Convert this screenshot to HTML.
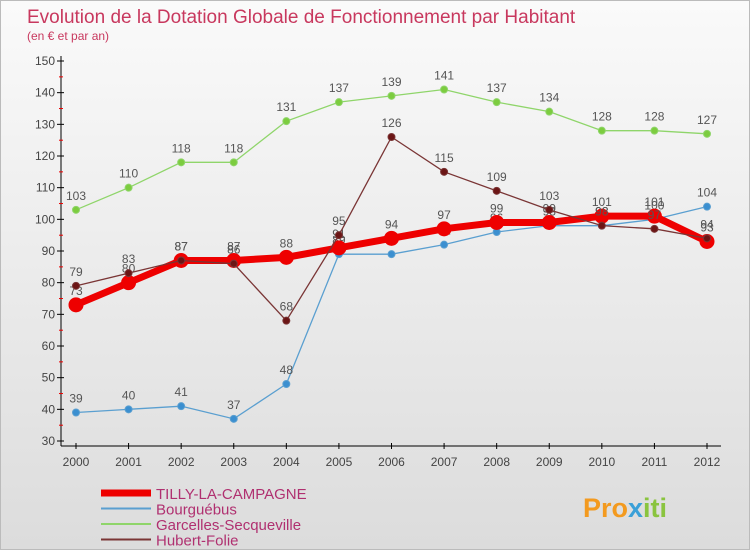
<!DOCTYPE html>
<html><head><meta charset="utf-8"><style>
body{margin:0;width:750px;height:550px;overflow:hidden;font-family:"Liberation Sans",sans-serif;}
#c{position:absolute;left:0;top:0;width:748px;height:548px;border:1px solid #bbb;background:linear-gradient(#fafafa,#dcdcdc);}
</style></head><body>
<div id="c">
<svg id="s" width="750" height="550">
<text x="26" y="22" font-size="19" fill="#c8385e">Evolution de la Dotation Globale de Fonctionnement par Habitant</text>
<text x="26" y="39" font-size="12" fill="#c8385e">(en € et par an)</text>
<g id="axes"></g><g id="series"></g><g id="legend"></g>
<text x="582" y="516" font-size="27" font-weight="bold" fill="#f39a1f">Pro<tspan fill="#3aa0d8">x</tspan><tspan fill="#8ac43f">iti</tspan></text>
</svg></div>
<script>
const years=[2000,2001,2002,2003,2004,2005,2006,2007,2008,2009,2010,2011,2012];
const yTicks=[30,40,50,60,70,80,90,100,110,120,130,140,150];
const tilly=[73,80,87,87,88,91,94,97,99,99,101,101,93];
const bourg=[39,40,41,37,48,89,89,92,96,98,98,100,104];
const garc=[103,110,118,118,131,137,139,141,137,134,128,128,127];
const hub=[79,83,87,86,68,95,126,115,109,103,98,97,94];
const NS='http://www.w3.org/2000/svg';
const X=i=>75+i*(706-75)/12;
const Y=v=>440-(v-30)*(380/120);
function mk(t,a,p){const e=document.createElementNS(NS,t);for(const k in a)e.setAttribute(k,a[k]);p.appendChild(e);return e;}
const ax=document.getElementById('axes');
let l=mk('line',{x1:60,y1:55,x2:60,y2:445,stroke:'#000'},ax);

l=mk('line',{x1:60,y1:445,x2:720,y2:445,stroke:'#000'},ax);

yTicks.forEach(v=>{const y=Y(v);
 mk('line',{x1:56,y1:y,x2:63,y2:y,stroke:'#000'},ax);
 if(v<150)mk('line',{x1:58,y1:y-15.8,x2:62,y2:y-15.8,stroke:'#e00'},ax);
 const t=mk('text',{x:54,y:y+4,'font-size':12,'text-anchor':'end',fill:'#444'},ax);t.textContent=v;
 });
years.forEach((yr,i)=>{const x=X(i);
 mk('line',{x1:x,y1:442,x2:x,y2:448,stroke:'#000'},ax);
 const t=mk('text',{x:x,y:465,'font-size':12,'text-anchor':'middle',fill:'#444'},ax);t.textContent=yr;
 });
const sg=document.getElementById('series');
function series(d,col,w,r,fill,name){
 const g=mk('g',{},sg);
 mk('polyline',{points:d.map((v,i)=>X(i)+','+Y(v)).join(' '),fill:'none',stroke:col,'stroke-width':w},g);
 d.forEach((v,i)=>{const c=mk('circle',{cx:X(i),cy:Y(v),r:r,fill:fill,stroke:col,'stroke-width':1},g);
  
  const t=mk('text',{x:X(i),y:Y(v)-10,'font-size':12,'text-anchor':'middle',fill:'#555'},g);t.textContent=v;
  });
}
series(garc,'#8fd56a',1.3,3.5,'#7ccc3f','garcelles-series');
series(bourg,'#5a9fd0',1.3,3.5,'#3b8fd0','bourguebus-series');
series(tilly,'#ee0000',7,7,'#ee0000','tilly-series');
series(hub,'#7a3535',1.3,3.5,'#6b1515','hubert-series');
const lg=document.getElementById('legend');
const items=[['TILLY-LA-CAMPAGNE','#ee0000',7],['Bourguébus','#5a9fd0',2],['Garcelles-Secqueville','#8fd56a',2],['Hubert-Folie','#7a3535',2]];
items.forEach((it,i)=>{const y=492+i*15.5;
 const g=mk('g',{},lg);
 mk('line',{x1:100,y1:y,x2:150,y2:y,stroke:it[1],'stroke-width':it[2]},g);
 const t=mk('text',{x:155,y:y+6,'font-size':15,fill:'#b03070'},g);t.textContent=it[0];});
</script></body></html>
